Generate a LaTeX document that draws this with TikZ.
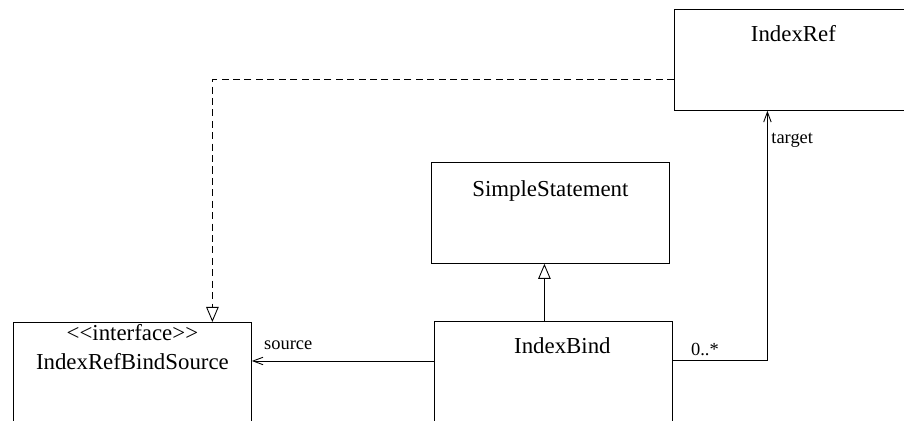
\documentclass[tikz,border=0pt]{standalone}
\usepackage{fontspec}
\setmainfont{Liberation Serif}
\usetikzlibrary{arrows.meta, calc}
\tikzset{
  cls/.style={draw, line width=0.5pt, anchor=north west, minimum width=4.76cm,
    minimum height=2.02cm, inner sep=0pt},
  title/.style={anchor=base, inner sep=0pt, align=center,
    font=\fontsize{13}{17}\selectfont},
  role/.style={font=\fontsize{10.5}{12}\selectfont, inner sep=2pt},
  inherit/.style={-{Triangle[open, length=3mm, width=2.5mm]}, line width=0.5pt},
  realize/.style={inherit, dash pattern=on 4pt off 2.5pt},
  assoc/.style={-{Straight Barb[length=2mm, width=1.5mm]}, line width=0.5pt},
}

\begin{document}
\begin{tikzpicture}[x=0.02cm, y=-0.02cm]
    \clip (0,0) rectangle (904,421);
    \node[cls, label={[title, yshift=-0.66cm]north:IndexRef}] (ref) at (674,9) {};
    \node[cls, label={[title, yshift=-0.70cm]north:SimpleStatement}] (stmt) at (431,162) {};
    \node[cls, label={[title, xshift=0.18cm, yshift=-0.66cm]north:IndexBind}] (bind) at (434,321) {};
    \node[cls, label={[title, yshift=-0.96cm]north:{<\kern0pt<interface>\kern0pt>\\IndexRefBindSource}}] (src) at (13,322) {};
    \draw[inherit] ([xshift=-0.18cm]bind.north) -- ([xshift=-0.18cm]bind.north |- stmt.south);
    \draw[realize] ([yshift=-0.4cm]ref.west) -| ([xshift=1.6cm]src.north);
    \draw[assoc] ([yshift=-0.8cm]bind.north west) -- ([yshift=-0.8cm]bind.north west -| src.east)
      node[role, pos=0.8, above=4pt] {source};
    \draw[assoc] ([yshift=-0.78cm]bind.north east) -| ([xshift=-0.52cm]ref.south)
      node[role, pos=0.17, above] {0..*} node[role, pos=0.94, right] {target};
  \end{tikzpicture}
\end{document}
